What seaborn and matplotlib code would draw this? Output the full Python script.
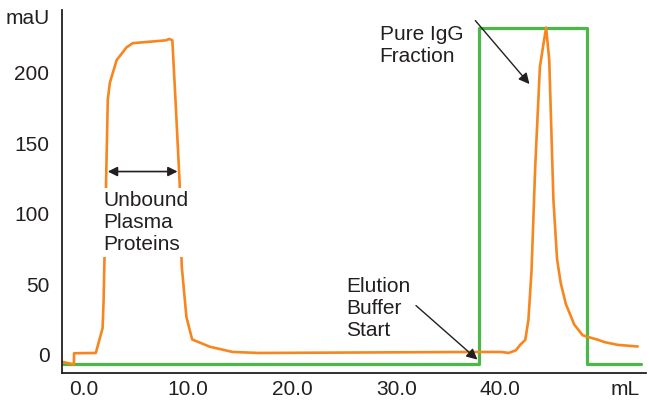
import matplotlib
matplotlib.use("Agg")
import matplotlib.pyplot as plt
import seaborn as sns
import pandas as pd

# UV trace (mAU) vs volume (mL)
uv_ml = [-2.0, -1.15, -0.96, -0.94, 1.15, 1.8, 1.9, 2.3, 2.5, 3.15, 4.1, 4.7, 7.9, 8.2, 8.5,
         8.8, 9.2, 9.4, 9.85, 10.4, 12.1, 14.3, 16.8, 37.0, 40.1, 40.8, 41.5, 41.9,
         42.4, 42.7, 43.0, 43.35, 43.8, 44.2, 44.4, 44.7, 45.1, 45.45, 45.8, 46.3,
         46.8, 47.1, 47.5, 47.9, 48.4, 49.4, 50.0, 51.3, 53.2]
uv_mau = [-5.0, -6.4, -7.0, 1.2, 1.4, 19, 39, 181, 193, 209, 218, 221, 223, 224, 223,
          181, 122, 63, 27, 11, 5.8, 2.1, 1.4, 2.1, 2.1, 1.4, 3.3, 7.1,
          10.7, 25, 60, 133, 204, 223, 232, 209, 110, 68, 51, 36,
          27, 21.5, 17.8, 14, 12.8, 10.7, 9.1, 7.1, 6.0]

# elution buffer step
buf_ml = [-2.0, 38.0, 38.0, 48.3, 48.3, 53.5]
buf_level = [-6.6, -6.6, 232, 232, -6.6, -6.6]

xticks = [0, 10, 20, 30, 40, 52]
xticklabels = ["0.0", "10.0", "20.0", "30.0", "40.0", "mL"]
yticks = [0, 50, 100, 150, 200, 240]
yticklabels = ["0", "50", "100", "150", "200", "maU"]

sns.set_style("white")
plt.rcParams['font.family'] = ['Liberation Sans', 'DejaVu Sans']

uv = pd.DataFrame({"ml": uv_ml, "mau": uv_mau})
buf = pd.DataFrame({"ml": buf_ml, "mau": buf_level})

fig = plt.figure(figsize=(6.49, 4.0), dpi=100)
ax = fig.add_axes([0.0955, 0.0675, 0.9, 0.9075])

sns.lineplot(data=buf, x="ml", y="mau", sort=False, estimator=None, errorbar=None,
             color="#4cb848", lw=2.3, ax=ax)
sns.lineplot(data=uv, x="ml", y="mau", sort=False, estimator=None, errorbar=None,
             color="#f7861e", lw=1.9, ax=ax)

ax.set_xlim(-2.1, 54)
ax.set_ylim(-12.8, 244.5)
ax.set_xticks(xticks)
ax.set_xticklabels(xticklabels)
ax.set_yticks(yticks)
ax.set_yticklabels(yticklabels)
ax.tick_params(length=0, labelsize=15, colors="#231f20")
ax.tick_params(axis="y", pad=9)
ax.tick_params(axis="x", pad=5)
ax.set_xlabel("")
ax.set_ylabel("")
sns.despine(ax=ax)
for s in ("left", "bottom"):
    ax.spines[s].set_linewidth(1.3)
    ax.spines[s].set_color("#231f20")

# annotations
ax.text(1.9, 94, "Unbound\nPlasma\nProteins", fontsize=15, color="#231f20",
        va="center", ha="left", linespacing=1.2,
        bbox=dict(facecolor="white", edgecolor="none", pad=2))
ax.annotate("", xy=(2.3, 130), xytext=(9.0, 130),
            arrowprops=dict(arrowstyle="<|-|>", color="#231f20", lw=1.2,
                            mutation_scale=14, shrinkA=0, shrinkB=0))

ax.text(25.2, 33, "Elution\nBuffer\nStart", fontsize=15, color="#231f20",
        va="center", ha="left", linespacing=1.2)
ax.annotate("", xy=(37.8, -3.3), xytext=(31.9, 35),
            arrowprops=dict(arrowstyle="-|>", color="#231f20", lw=1.0,
                            mutation_scale=16, shrinkA=0, shrinkB=0))

ax.text(28.4, 219, "Pure IgG\nFraction", fontsize=15, color="#231f20",
        va="center", ha="left", linespacing=1.2)
ax.annotate("", xy=(42.8, 192), xytext=(37.6, 237),
            arrowprops=dict(arrowstyle="-|>", color="#231f20", lw=1.0,
                            mutation_scale=16, shrinkA=0, shrinkB=0))

fig.savefig("out.png", dpi=100)
